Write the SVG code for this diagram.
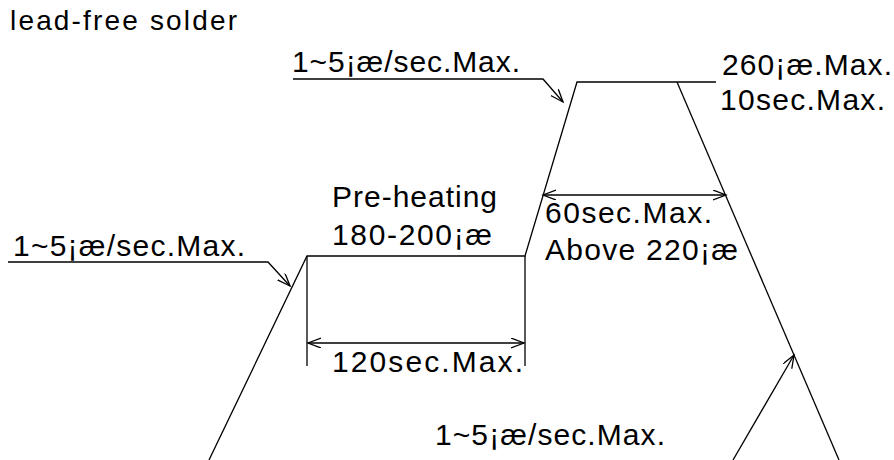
<svg xmlns="http://www.w3.org/2000/svg" width="894" height="460" viewBox="0 0 894 460">
<defs>
<style>
.ln{fill:none;stroke:#000;stroke-width:1.3}
.t{font-family:"Liberation Sans",Arial,sans-serif;font-size:30px;fill:#000}
.h{font-size:28px}
</style>
<marker id="ah" markerUnits="userSpaceOnUse" markerWidth="16" markerHeight="12" refX="13" refY="5" orient="auto-start-reverse" viewBox="0 0 16 12">
<path d="M0,0 L13,5 L0,10" fill="none" stroke="#000" stroke-width="1.3"/>
</marker>
</defs>
<rect width="894" height="460" fill="#fff"/>
<g id="profile">
<polyline class="ln" points="209,460 307,256 525,256 577,82 716,82"/>
<line class="ln" x1="677" y1="82" x2="839" y2="460"/>
</g>
<g id="connectors">
<line class="ln" x1="307" y1="256" x2="307" y2="366"/>
<line class="ln" x1="525" y1="256" x2="525" y2="366"/>
<line class="ln" x1="308" y1="343" x2="524" y2="343" marker-start="url(#ah)" marker-end="url(#ah)"/>
<line class="ln" x1="543" y1="195" x2="726" y2="195" marker-start="url(#ah)" marker-end="url(#ah)"/>
<polyline class="ln" points="293,79 543,79 563,102" marker-end="url(#ah)"/>
<polyline class="ln" points="8,262 268,262 290,286" marker-end="url(#ah)"/>
<line class="ln" x1="733" y1="460" x2="794" y2="355" marker-end="url(#ah)"/>
</g>
<g id="labels">
<text class="t h" x="10" y="30" textLength="227" lengthAdjust="spacing">lead-free solder</text>
<text class="t" x="292" y="72" textLength="228" lengthAdjust="spacing">1~5¡æ/sec.Max.</text>
<text class="t" x="722" y="75" textLength="170" lengthAdjust="spacing">260¡æ.Max.</text>
<text class="t" x="720" y="110" textLength="165" lengthAdjust="spacing">10sec.Max.</text>
<text class="t" x="332" y="207" textLength="165" lengthAdjust="spacing">Pre-heating</text>
<text class="t" x="332" y="245" textLength="160" lengthAdjust="spacing">180-200¡æ</text>
<text class="t" x="545" y="223" textLength="167" lengthAdjust="spacing">60sec.Max.</text>
<text class="t" x="545" y="260" textLength="193" lengthAdjust="spacing">Above 220¡æ</text>
<text class="t" x="13" y="256" textLength="232" lengthAdjust="spacing">1~5¡æ/sec.Max.</text>
<text class="t" x="332" y="372" textLength="191" lengthAdjust="spacing">120sec.Max.</text>
<text class="t" x="435" y="445" textLength="230" lengthAdjust="spacing">1~5¡æ/sec.Max.</text>
</g>
</svg>
